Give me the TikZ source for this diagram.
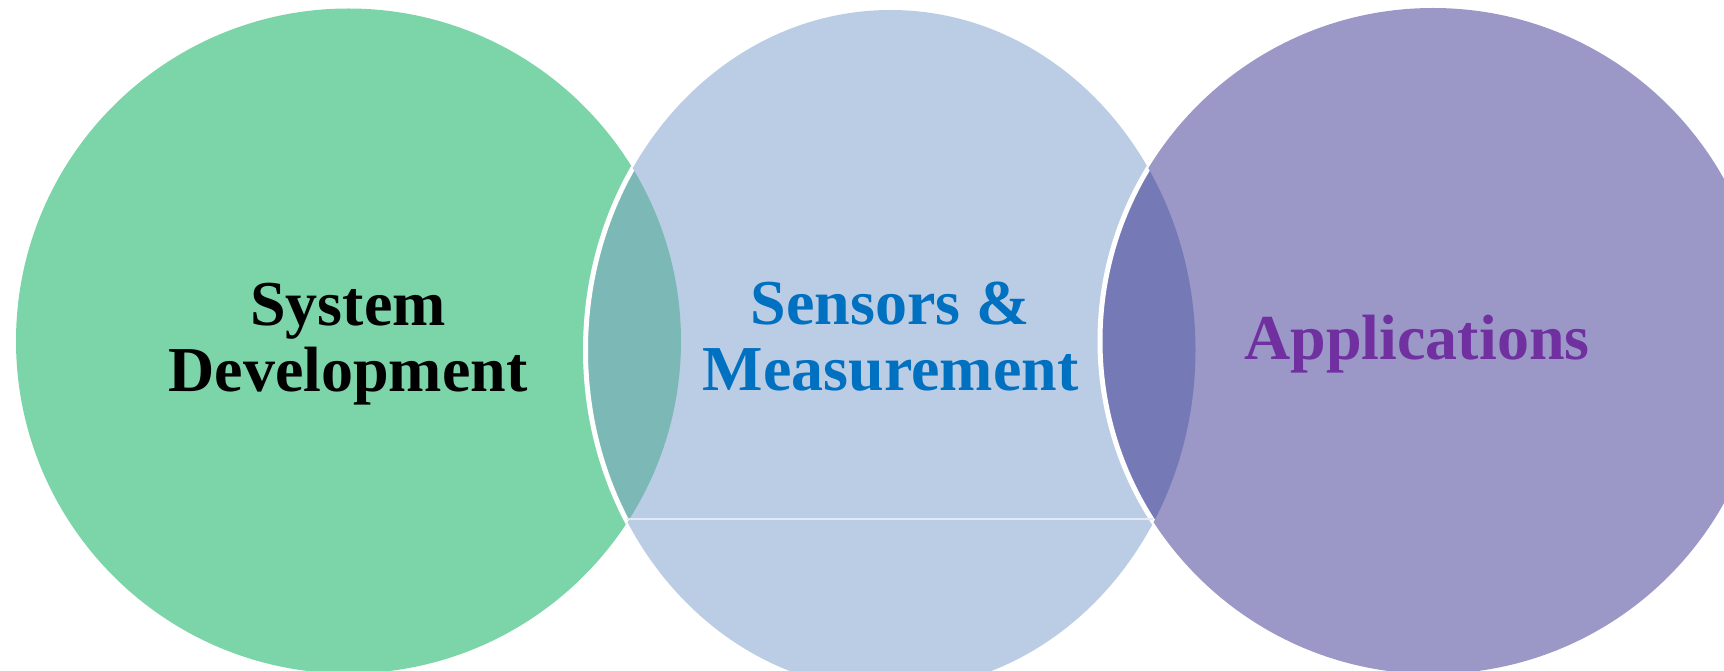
\documentclass[tikz,border=0pt]{standalone}
\usepackage{fontspec}
\setmainfont{Liberation Serif}
\definecolor{greenfill}{HTML}{7CD5A8}
\definecolor{bluefill}{HTML}{BBCDE5}
\definecolor{purplefill}{HTML}{9B98C8}
\definecolor{tealoverlap}{HTML}{7CB9B6}
\definecolor{violetoverlap}{HTML}{757AB6}
\definecolor{seamline}{HTML}{E4EAF4}
\definecolor{sensorblue}{HTML}{0070C0}
\definecolor{appviolet}{HTML}{7030A0}
\tikzset{
  label text/.style={font=\fontsize{32}{33}\selectfont\bfseries, align=center, inner sep=0pt},
  edge white/.style={draw=white, line width=2.5pt},
}
\begin{document}
\begin{tikzpicture}[x=0.5pt, y=0.5pt]
  \useasboundingbox (0,0) rectangle (1724,670);
  % the three discs
  \fill[greenfill]  (348.5,329) circle [radius=332.5];
  \fill[bluefill]   (890.5,320) ellipse [x radius=305, y radius=340];
  \fill[purplefill] (1433,329) circle [radius=333];
  % overlap between left and middle
  \begin{scope}
    \clip (348.5,329) circle [radius=332.5];
    \fill[tealoverlap] (890.5,320) ellipse [x radius=305, y radius=340];
    \draw[edge white] (890.5,320) ellipse [x radius=305, y radius=340];
  \end{scope}
  % overlap between middle and right
  \begin{scope}
    \clip (1433,329) circle [radius=333];
    \fill[violetoverlap] (890.5,320) ellipse [x radius=305, y radius=340];
  \end{scope}
  \begin{scope}
    \clip (890.5,320) ellipse [x radius=305, y radius=340];
    \draw[edge white] (1433,329) circle [radius=333];
  \end{scope}
  % thin seam across the middle disc
  \coordinate (lowL) at (627,151);
  \coordinate (lowR) at (1153,151);
  \draw[seamline, line width=0.6pt] (lowL) -- (lowR);
  % labels
  \node[label text, text=black] (sysdev) at (348,326) {System\\Development};
  \node[label text, text=sensorblue] (sensors) at (890.5,333) {Sensors \&\\Measurement};
  \node[label text, text=appviolet, anchor=base] (apps) at (1417,310.5) {Applications};
\end{tikzpicture}
\end{document}
